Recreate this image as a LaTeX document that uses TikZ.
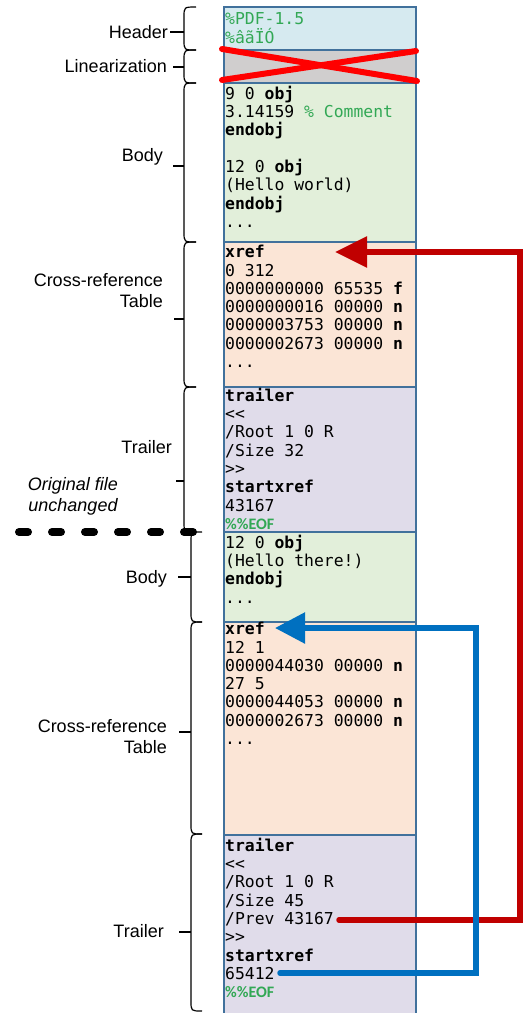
\documentclass[tikz,border=0pt]{standalone}
\usepackage{fontspec}
\setmainfont{Liberation Sans}
\newfontfamily\codefont{DejaVu Sans Mono}
\newfontfamily\eoffont{Carlito}
\usetikzlibrary{arrows.meta}

\definecolor{hdrfill}{RGB}{214,234,240}
\definecolor{linfill}{RGB}{208,206,206}
\definecolor{bodyfill}{RGB}{226,239,218}
\definecolor{xreffill}{RGB}{251,229,214}
\definecolor{trlfill}{RGB}{224,220,234}
\definecolor{edge}{RGB}{65,113,156}
\definecolor{codegreen}{RGB}{50,168,85}
\definecolor{prevred}{RGB}{192,0,0}
\definecolor{startblue}{RGB}{0,112,192}
\definecolor{crossred}{RGB}{255,0,0}

% keywords, comments and the end-of-file marker
\newcommand\kw[1]{\textbf{#1}}
\newcommand\cm[1]{\textcolor{codegreen}{#1}}
\newcommand\eofmark{{\color{codegreen}\eoffont\bfseries\fontsize{16}{18.3}\selectfont\%\%EOF}}
\newcommand\dlt{<\kern0pt<}
\newcommand\dgt{>\kern0pt>}
% curly brace: #1 spine x, #2 tip-end x, #3 top, #4 bottom, #5 tick y, #6 tick start x
\newcommand\sectbrace[6]{%
  \draw[brc] (#2,#3) .. controls (#1,#3) .. (#1,#3+10) -- (#1,#4-10)
             .. controls (#1,#4) .. (#2,#4);
  \draw[brc] (#6,#5) -- (#1,#5);}

\begin{document}
\begin{tikzpicture}[x=1pt,y=-1pt,
  part/.style={draw=edge, line width=1.3pt},
  code/.style={anchor=north west, inner sep=0pt, align=left,
    font={\codefont\fontsize{16.4}{18.3}\selectfont\lineskiplimit=-100pt}},
  lbl/.style={anchor=base east, inner sep=0pt, font=\fontsize{18}{21}\selectfont},
  lbltwo/.style={anchor=north east, inner sep=0pt, align=right,
    font={\fontsize{18}{21}\selectfont\lineskiplimit=-100pt}},
  brc/.style={line width=1.2pt, black},
  cross/.style={crossred, line width=6pt, line cap=round},
  prevarrow/.style={prevred, line width=5.5pt, line cap=round,
    -{Triangle[length=32pt,width=30pt]}},
  startarrow/.style={startblue, line width=5.5pt, line cap=round,
    -{Triangle[length=30pt,width=30pt]}},
  cutline/.style={black, line width=8pt, line cap=round, dash pattern=on 9pt off 24pt}]

\useasboundingbox (0,0) rectangle (526,1013);

% sections of the file
\draw[part,fill=hdrfill]  (224,7)   rectangle (416,50);
\draw[part,fill=linfill]  (224,50)  rectangle (416,83);
\draw[part,fill=bodyfill] (224,83)  rectangle (416,242);
\draw[part,fill=xreffill] (224,242) rectangle (416,387);
\draw[part,fill=trlfill]  (224,387) rectangle (416,532);
\draw[part,fill=bodyfill] (224,532) rectangle (416,622);
\draw[part,fill=xreffill] (224,622) rectangle (416,835);
\draw[part,fill=trlfill]  (224,835) rectangle (416,1020);

% file contents
\node[code] (hdr) at (225,11.7) {\strut\cm{\%PDF-1.5}\\\strut\cm{\%âãÏÓ}};
\node[code] (body) at (225,85.7) {\strut9 0 \kw{obj}\\
  \strut3.14159 \cm{\% Comment}\\
  \strut\kw{endobj}\\
  \strut\\
  \strut12 0 \kw{obj}\\
  \strut(Hello world)\\
  \strut\kw{endobj}\\
  \strut...};
\node[code] (xref) at (225,244.7) {\strut\kw{xref}\\
  \strut0 312\\
  \strut0000000000 65535 \kw{f}\\
  \strut0000000016 00000 \kw{n}\\
  \strut0000003753 00000 \kw{n}\\
  \strut0000002673 00000 \kw{n}\\
  \strut...};
\node[code] (trl) at (225,387.7) {\strut\kw{trailer}\\
  \strut\dlt\\
  \strut/Root 1 0 R\\
  \strut/Size 32\\
  \strut\dgt\\
  \strut\kw{startxref}\\
  \strut43167\\
  \strut\eofmark};
\node[code] (body2) at (225,534.7) {\strut12 0 \kw{obj}\\
  \strut(Hello there!)\\
  \strut\kw{endobj}\\
  \strut...};
\node[code] (xref2) at (225,621.7) {\strut\kw{xref}\\
  \strut12 1\\
  \strut0000044030 00000 \kw{n}\\
  \strut27 5\\
  \strut0000044053 00000 \kw{n}\\
  \strut0000002673 00000 \kw{n}\\
  \strut...};
\node[code] (trl2) at (225,837.7) {\strut\kw{trailer}\\
  \strut\dlt\\
  \strut/Root 1 0 R\\
  \strut/Size 45\\
  \strut/Prev 43167\\
  \strut\dgt\\
  \strut\kw{startxref}\\
  \strut65412\\
  \strut\eofmark};

% linearization section struck out
\draw[cross] (222,49) -- (417,81);
\draw[cross] (222,80) -- (416,51);

% offsets pointing back to the cross-reference tables
\coordinate (prevend) at (339,920);
\coordinate (xrefA) at (335,252);
\coordinate (startend) at (280,973);
\coordinate (xrefB) at (275,628);
\draw[prevarrow] (prevend) -- ++(181,0) |- (xrefA);
\draw[startarrow] (startend) -- ++(196,0) |- (xrefB);

% braces for the original file
\sectbrace{184}{196}{7}{50}{32}{170}
\sectbrace{184}{196}{50}{83}{67}{173}
\sectbrace{184}{196}{83}{242}{166}{173}
\sectbrace{184}{196}{242}{387}{319}{174}
\sectbrace{184}{196}{387}{532}{481}{176}
% braces for the appended update
\sectbrace{191}{202}{532}{622}{577}{178}
\sectbrace{191}{202}{622}{834}{732}{179}
\sectbrace{191}{202}{834}{1011}{932}{179}

% labels
\node[lbl] (lhdr) at (168,38.3) {Header};
\node[lbl] (llin) at (167,72) {Linearization};
\node[lbl] (lbody) at (163,161) {Body};
\node[lbltwo] (lxref) at (163,272.8) {Cross-reference\\Table};
\node[lbl] (ltrl) at (172,453) {Trailer};
\node[anchor=north, inner sep=0pt, align=center,
  font={\fontsize{18}{21}\selectfont\itshape\lineskiplimit=-100pt}]
  (orig) at (73,476.8) {Original file\\unchanged};
\node[lbl] (lbody2) at (167,583) {Body};
\node[lbltwo] (lxref2) at (167,718.8) {Cross-reference\\Table};
\node[lbl] (ltrl2) at (164,937) {Trailer};

% end of the original file
\coordinate (cutstart) at (19,532);
\coordinate (cutend) at (197,532);
\draw[cutline] (cutstart) -- (cutend);
\end{tikzpicture}
\end{document}
